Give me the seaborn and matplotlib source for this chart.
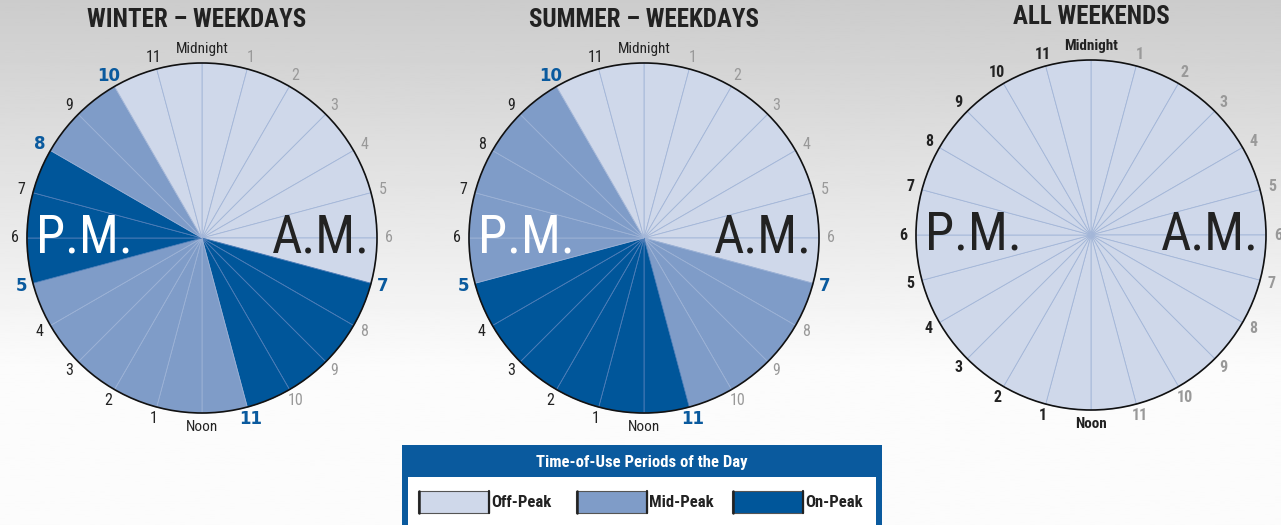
import numpy as np
import matplotlib.pyplot as plt
import seaborn as sns
from matplotlib import font_manager as fm
from matplotlib.patches import Circle, Rectangle

sns.set_theme(style="white")
available = {f.name for f in fm.fontManager.ttflist}
narrow = [n for n in ["Roboto Condensed", "Archivo Narrow", "Asap Condensed",
                      "Liberation Sans Narrow"] if n in available]
FONT = narrow[:1] + ["DejaVu Sans"]
plt.rcParams['font.family'] = FONT

# Data: period per hour, starting at midnight (O = off-peak, M = mid-peak, P = on-peak)
hours = list(range(24))
winter_weekdays = ["O", "O", "O", "O", "O", "O", "O", "P", "P", "P", "P", "M",
                   "M", "M", "M", "M", "M", "P", "P", "P", "M", "M", "O", "O"]
summer_weekdays = ["O", "O", "O", "O", "O", "O", "O", "M", "M", "M", "M", "P",
                   "P", "P", "P", "P", "P", "M", "M", "M", "M", "M", "O", "O"]
all_weekends = ["O"] * 24
titles = ["WINTER – WEEKDAYS", "SUMMER – WEEKDAYS", "ALL WEEKENDS"]
hour_labels = ["Midnight", "1", "2", "3", "4", "5", "6", "7", "8", "9", "10", "11",
               "Noon", "1", "2", "3", "4", "5", "6", "7", "8", "9", "10", "11"]
period_names = {"O": "Off-Peak", "M": "Mid-Peak", "P": "On-Peak"}

colors = {"O": "#CFD8EA", "M": "#7F9CC8", "P": "#00569A"}
spoke = {"O": "#A3B6D8", "M": "#9CB2D6", "P": "#4E7DB8"}
BLUE = "#0A5A9E"

W, H = 1281, 525
fig = plt.figure(figsize=(W / 100, H / 100), dpi=100)

# background gradient
bg = fig.add_axes([0, 0, 1, 1])
grad = np.linspace(0, 1, 256)
shade = np.clip(0.80 + 0.2 * grad / 0.75, 0, 0.985)
bg.imshow(shade[:, None], cmap="gray", vmin=0, vmax=1, aspect="auto",
          extent=[0, 1, 0, 1], origin="upper")
bg.set_axis_off()

centers = [(202, 238), (644, 238), (1091, 235)]
title_shift = [-0.03, 0, 0]
R = 175
L = 1.25
datasets = [winter_weekdays, summer_weekdays, all_weekends]

for (cx, cy), periods, title, dx in zip(centers, datasets, titles, title_shift):
    size = 2 * L * R
    ax = fig.add_axes([(cx - size / 2) / W, (H - cy - size / 2) / H, size / W, size / H])
    ax.set_xlim(-L, L)
    ax.set_ylim(-L, L)
    ax.set_aspect("equal")
    ax.set_axis_off()
    wedges, _ = ax.pie(np.ones(len(hours)), colors=[colors[p] for p in periods],
                       startangle=90, counterclock=False, radius=1,
                       wedgeprops=dict(linewidth=0.6))
    for w, p in zip(wedges, periods):
        w.set_edgecolor(spoke[p])
    ax.add_patch(Circle((0, 0), 1, fill=False, edgecolor="#111111", lw=1.2))

    weekend = all(p == "O" for p in periods)
    for h in hours:
        th = np.deg2rad(90 - 15 * h)
        rr = 1.07 if h not in (0, 12) else 1.08
        x, y = rr * np.cos(th), rr * np.sin(th)
        boundary = periods[h - 1] != periods[h]
        fw = "bold" if weekend else "normal"
        fam = FONT
        if h in (0, 12):
            col, fs = "#222222", 11
        elif boundary:
            col, fw, fs, fam = BLUE, "bold", 12, ["DejaVu Sans"]
        elif h < 12:
            col, fs = "#999999", 11.5
        else:
            col, fs = "#222222", 11.5
        ax.text(x, y, hour_labels[h], ha="center", va="center", color=col,
                fontsize=fs, fontweight=fw, family=fam)

    pm_col = "white" if periods[18] != "O" else "#222222"
    ax.text(0.68, 0.0, "A.M.", ha="center", va="center", fontsize=38,
            color="#222222")
    ax.text(-0.67, 0.0, "P.M.", ha="center", va="center", fontsize=38,
            color=pm_col)
    ax.text(dx, 1.245, title, ha="center", va="center", fontsize=18,
            fontweight="bold", color="#222222")

# legend box
lg = fig.add_axes([402 / W, 0, 480 / W, 80 / H])
lg.set_xlim(402, 882)
lg.set_ylim(525, 445)
lg.set_axis_off()
lg.add_patch(Rectangle((402, 445), 480, 80, facecolor=BLUE, edgecolor="none"))
lg.add_patch(Rectangle((408, 477), 468, 60, facecolor="white", edgecolor="none"))
lg.text(642, 462, "Time-of-Use Periods of the Day", ha="center", va="center",
        color="white", fontsize=12, fontweight="bold")
for key, x0 in zip(["O", "M", "P"], [418, 576, 732]):
    lg.add_patch(Rectangle((x0, 491), 71, 22, facecolor=colors[key],
                           edgecolor="#555555", lw=0.8))
    lg.plot([x0 + 0.8, x0 + 0.8], [491, 513], color="#222222", lw=1.8)
    lg.plot([x0 + 70.5, x0 + 70.5], [491, 513], color="#222222", lw=1.6)
    lg.text(x0 + 73, 502.5, period_names[key], ha="left", va="center",
            color="#222222", fontsize=12, fontweight="bold")

fig.savefig("out.png", dpi=100)
